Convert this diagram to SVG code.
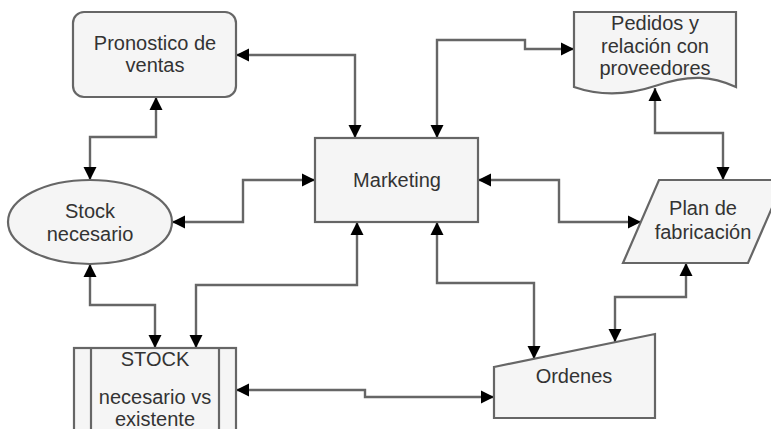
<svg xmlns="http://www.w3.org/2000/svg" width="771" height="429" viewBox="0 0 771 429">
<style>
.shape{fill:#f5f5f5;stroke:#666666;stroke-width:2.2}
.lbl{font-family:"Liberation Sans",Arial,sans-serif;font-size:20px;fill:#333333;text-anchor:middle}
.conn{fill:none;stroke:#666666;stroke-width:2.4;marker-start:url(#arr);marker-end:url(#arr)}
</style>
<defs>
<marker id="arr" markerUnits="userSpaceOnUse" markerWidth="14" markerHeight="14" refX="13" refY="7" orient="auto-start-reverse" viewBox="0 0 14 14">
<path d="M0,0.5 L13,7 L0,13.5 Z" fill="#000"/>
</marker>
</defs>
<rect width="771" height="429" fill="#ffffff"/>
<g id="connectors">
<path class="conn" d="M236,55 H355 V138"/>
<path class="conn" d="M156,97 V137 H90 V180"/>
<path class="conn" d="M437,138 V40 H525 V49 H574"/>
<path class="conn" d="M655,88 V133 H723 V180"/>
<path class="conn" d="M478,180 H559 V222 H641"/>
<path class="conn" d="M172,222 H243 V180 H315"/>
<path class="conn" d="M90,264 V305 H155 V348"/>
<path class="conn" d="M357,222 V285 H196 V348"/>
<path class="conn" d="M437,222 V283 H534 V359"/>
<path class="conn" d="M686,263 V297 H615 V342"/>
<path class="conn" d="M236,390 H365 V397 H494"/>
</g>
<g id="pronostico">
<rect class="shape" x="73" y="12" width="163" height="85" rx="11"/>
<text class="lbl" x="155" y="50">Pronostico de</text>
<text class="lbl" x="155" y="72">ventas</text>
</g>
<g id="marketing">
<rect class="shape" x="315" y="138" width="163" height="84"/>
<text class="lbl" x="397" y="187">Marketing</text>
</g>
<g id="pedidos">
<path class="shape" d="M574,12 H736 V87 C712,76 690,74 655,86 C628,95 600,96 574,87 Z"/>
<text class="lbl" x="655" y="30">Pedidos y</text>
<text class="lbl" x="655" y="53">relación con</text>
<text class="lbl" x="655" y="75">proveedores</text>
</g>
<g id="stock-necesario">
<ellipse class="shape" cx="90" cy="222" rx="82" ry="42"/>
<text class="lbl" x="90" y="218">Stock</text>
<text class="lbl" x="90" y="241">necesario</text>
</g>
<g id="plan">
<path class="shape" d="M659,180 H784 L748,263 H623 Z"/>
<text class="lbl" x="703" y="215">Plan de</text>
<text class="lbl" x="703" y="239">fabricación</text>
</g>
<g id="ordenes">
<path class="shape" d="M494,367 L655,334 V418 H494 Z"/>
<text class="lbl" x="574" y="383">Ordenes</text>
</g>
<g id="stock">
<rect class="shape" x="74" y="348" width="162" height="90"/>
<line x1="91" y1="348" x2="91" y2="438" stroke="#666666" stroke-width="2.2"/>
<line x1="219" y1="348" x2="219" y2="438" stroke="#666666" stroke-width="2.2"/>
<text class="lbl" x="155" y="366">STOCK</text>
<text class="lbl" x="155" y="404">necesario vs</text>
<text class="lbl" x="155" y="426">existente</text>
</g>
</svg>
